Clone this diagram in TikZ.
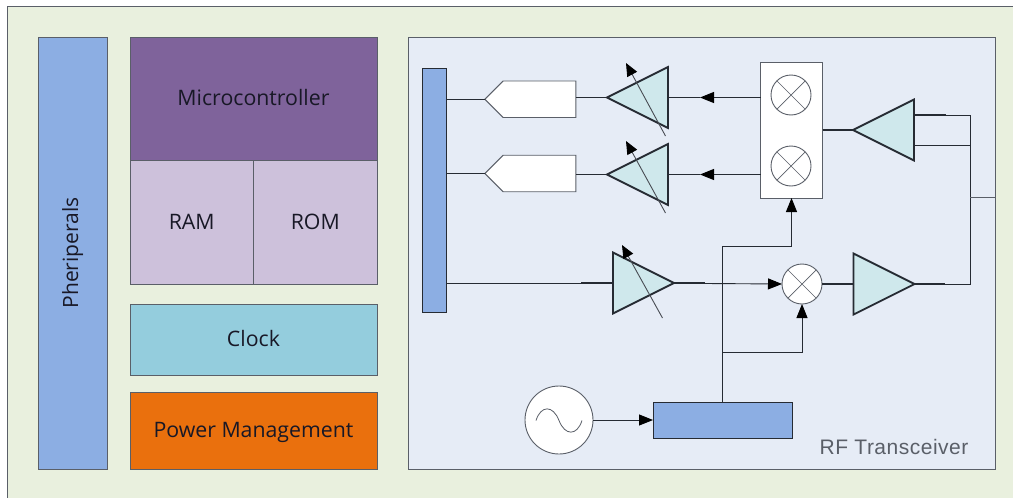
\documentclass[tikz,border=0pt]{standalone}
\usepackage{fontspec}
\setmainfont{Open Sans}
\newfontfamily\rffont[LetterSpace=2.4]{Liberation Sans}
\usetikzlibrary{positioning,calc,arrows.meta,shapes.geometric,shapes.symbols}
\definecolor{bggreen}{HTML}{E9F0DE}
\definecolor{rfpanel}{HTML}{E6ECF6}
\definecolor{barblue}{HTML}{8CAEE3}
\definecolor{mcupurple}{HTML}{7F639B}
\definecolor{memlilac}{HTML}{CDC1DB}
\definecolor{clockcyan}{HTML}{94CDDD}
\definecolor{pworange}{HTML}{EA700D}
\definecolor{amptint}{HTML}{CFE8EC}
\definecolor{inkdark}{HTML}{262B33}
\definecolor{edgegray}{HTML}{5A5F68}
\definecolor{labelink}{HTML}{181826}
\tikzset{
  block/.style={draw=edgegray,line width=0.9pt,inner sep=0,outer sep=0,text=labelink,font=\fontsize{21.3}{24}\selectfont},
  title/.style={block,text height=14pt,text depth=0pt},
  amp/.style={isosceles triangle,isosceles triangle apex angle=53.13,isosceles triangle stretches,
    minimum width=61,minimum height=61,inner sep=0,outer sep=0,draw=inkdark,line width=1.8pt,fill=amptint,
    line join=miter,shape border rotate=0},
  ampleft/.style={amp,shape border rotate=180,anchor=apex},
  ampright/.style={amp,anchor=apex},
  adc/.style={signal,signal to=west,signal from=nowhere,signal pointer angle=90,draw=edgegray,line width=0.9pt,fill=white,
    minimum width=91,minimum height=36.5,inner sep=0,outer sep=0},
  mixer/.style={circle,draw=edgegray,line width=0.9pt,fill=white,minimum size=40,inner sep=0,outer sep=0,
    path picture={\draw[edgegray,line width=0.7pt] (path picture bounding box.north west)--(path picture bounding box.south east)
      (path picture bounding box.north east)--(path picture bounding box.south west);}},
  wire/.style={draw=inkdark,line width=0.9pt},
  stub/.style={draw=inkdark,line width=1.8pt},
  arrowed/.style={wire,-{Triangle[length=14pt,width=11pt,color=black]}},
  tune/.style={draw=edgegray!80!black,line width=0.9pt,-{Triangle[length=13pt,width=11pt,color=black]}},
}
\begin{document}
\begin{tikzpicture}[x=1pt,y=-1pt]
\useasboundingbox (0,0) rectangle (1013,498);
\fill[bggreen] (7,6) rectangle (1013,498);
\draw[edgegray,line width=1pt] (7,498)--(7,6)--(1013,6);
% left column
\node[block,fill=barblue,minimum width=69.5,minimum height=432] (periph) at (72.75,253) {\rotatebox{90}{\fontsize{21}{24}\selectfont Pheriperals}};
\node[title,fill=mcupurple,minimum width=247,minimum height=123] (mcu) at (253.5,98.5) {Microcontroller};
\node[title,fill=memlilac,minimum width=123.5,minimum height=124,below=0pt of mcu.south west,anchor=north west] (ram) {RAM};
\node[title,fill=memlilac,minimum width=123.5,minimum height=124,right=0pt of ram] (rom) {ROM};
\node[title,fill=clockcyan,minimum width=247,minimum height=71] (clock) at (253.5,339.5) {Clock};
\node[title,fill=pworange,minimum width=247,minimum height=77,below=17pt of clock] (power) {Power Management};
% rf part
\node[block,fill=rfpanel,minimum width=587,minimum height=432] (rf) at (701.5,253) {};
\node[text=edgegray,font=\rffont\fontsize{21}{24}\selectfont,inner sep=0] (rflabel) at (894,447) {RF Transceiver};
\node[block,fill=barblue,draw=inkdark,minimum width=24.5,minimum height=244] (bus) at (434.25,190) {};
\node[adc] (adc1) at (539.5,99.25) {};
\node[adc] (adc2) at (539.5,173.5) {};
\node[ampleft] (vga1) at (607,97.5) {};
\node[ampleft] (vga2) at (607,174.5) {};
\node[ampright] (vga3) at (674,283) {};
\node[block,fill=white,minimum width=62,minimum height=136] (mixbox) at (791.5,130) {};
\node[mixer] (mix1) at (791,95) {};
\node[mixer] (mix2) at (791,166) {};
\node[mixer] (mix3) at (802,284) {};
\node[ampleft] (lna) at (853,130) {};
\node[ampright] (pa) at (914.5,284) {};
\node[block,fill=barblue,draw=inkdark,minimum width=139,minimum height=36.5] (lo) at (722.5,420.25) {};
\node[circle,draw=edgegray,line width=0.9pt,fill=white,minimum size=68,inner sep=0,outer sep=0] (osc) at (559,420) {};
\draw[edgegray,line width=0.8pt] (536,420.5) .. controls (541,405) and (553,405) .. (559,420.5) .. controls (565,436) and (577,436) .. (582,420.5);
% tuning arrows
\draw[tune] (665.5,136)--(626,63);
\draw[tune] (665.5,213)--(626,141);
\draw[tune] (662.5,318)--(622,245);
% receive paths
\coordinate (head1) at (700,97.5);
\coordinate (head2) at (700,174.5);
\draw[wire] (bus.east |- adc1.west)--(adc1.west);
\draw[wire] (bus.east |- adc2.west)--(adc2.west);
\draw[stub] (adc1.east |- vga1.apex)--(vga1.apex);
\draw[stub] (adc2.east |- vga2.apex)--(vga2.apex);
\draw[stub] (vga1.apex -| vga1.east)--(head1);
\draw[stub] (vga2.apex -| vga2.east)--(head2);
\draw[arrowed] (mixbox.west |- head1)--(head1);
\draw[arrowed] (mixbox.west |- head2)--(head2);
\draw[stub,line width=1.2pt] (mixbox.east |- lna.apex)--(lna.apex);
\coordinate (rail1) at (970,115);
\coordinate (rail2) at (970,145.5);
\coordinate (rail3) at (970,284);
\coordinate (railout) at (970,197);
\draw[stub] (lna.east |- rail1)--(946,115);
\draw[stub] (lna.east |- rail2)--(946,145.5);
\draw[wire] (946,115)--(rail1)--(rail3)--(pa.apex);
\draw[wire] (946,145.5)--(rail2);
\draw[stub] (pa.apex)--(945,284);
\draw[wire,edgegray] (railout)--(rf.east |- railout);
% transmit path
\coordinate (txin) at (581,283);
\draw[wire] (bus.east |- vga3.apex)--(txin);
\draw[stub] (txin)--(vga3.apex -| vga3.west);
\draw[stub] (vga3.apex)--(705,283);
\draw[arrowed] (705,283.5)--(mix3.west);
\draw[stub] (mix3.east)--(pa.west |- mix3.east);
% local oscillator
\coordinate (branch1) at (722.5,246);
\coordinate (branch2) at (722.5,352);
\draw[arrowed] (osc.east)--(lo.west |- osc.east);
\draw[wire] (lo.north)--(branch1);
\draw[arrowed] (branch1)-|(mixbox.south);
\draw[arrowed] (branch2)-|(mix3.south);
\end{tikzpicture}
\end{document}
